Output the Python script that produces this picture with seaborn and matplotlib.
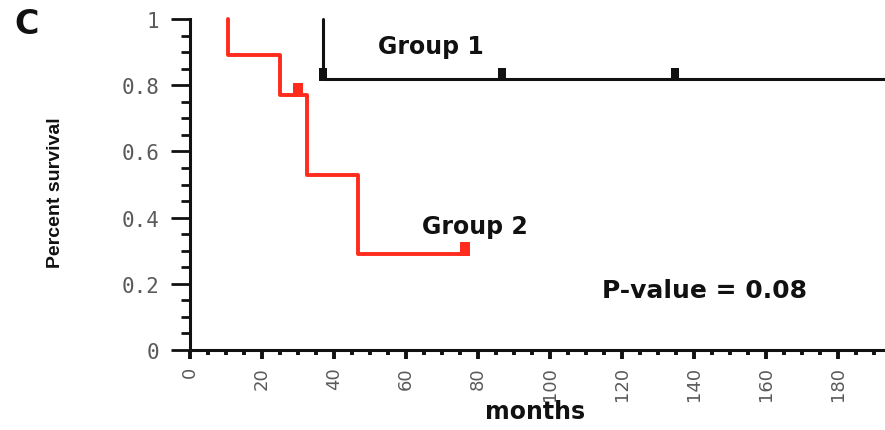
import numpy as np
import pandas as pd
import matplotlib
matplotlib.use("Agg")
import matplotlib.pyplot as plt
from matplotlib.path import Path
from matplotlib.ticker import MultipleLocator, FixedLocator
import seaborn as sns

# ---- data ----
g1_months = [37.0, 37.0, 195.0]
g1_surv = [1.0, 0.82, 0.82]
g1_cens_months = [37.0, 86.7, 134.7]
g1_cens_surv = [0.82, 0.82, 0.82]

g2_months = [10.5, 10.5, 25.0, 32.5, 46.7, 76.4]
g2_surv = [1.0, 0.89, 0.77, 0.53, 0.29, 0.29]
g2_cens_months = [30.0, 76.4]
g2_cens_surv = [0.77, 0.29]

x_ticks = [0, 20, 40, 60, 80, 100, 120, 140, 160, 180]
y_ticks = [0, 0.2, 0.4, 0.6, 0.8, 1.0]
y_tick_labels = ["0", "0.2", "0.4", "0.6", "0.8", "1"]

RED = "#ff2b1c"
BLACK = "#111111"
GRAY = "#5a5a5a"

sns.set_style("ticks")
plt.rcParams["font.family"] = ["DejaVu Sans"]

fig = plt.figure(figsize=(8.85, 4.31), dpi=100)
ax = fig.add_axes([190 / 885, 80 / 431, 695 / 885, 331 / 431])

d1 = pd.DataFrame({"months": g1_months, "surv": g1_surv})
d2 = pd.DataFrame({"months": g2_months, "surv": g2_surv})
sns.lineplot(data=d1, x="months", y="surv", ax=ax, drawstyle="steps-post",
             estimator=None, sort=False, color=BLACK, linewidth=2.2)
sns.lineplot(data=d2, x="months", y="surv", ax=ax, drawstyle="steps-post",
             estimator=None, sort=False, color=RED, linewidth=2.8)
for ln in ax.lines:
    ln.set_clip_on(False)

# censor tick: small upright rectangle sitting on the curve
cens = Path([(-0.4, -0.15), (0.4, -0.15), (0.4, 1.0), (-0.4, 1.0), (-0.4, -0.15)],
            [Path.MOVETO, Path.LINETO, Path.LINETO, Path.LINETO, Path.CLOSEPOLY])
sns.scatterplot(x=g1_cens_months, y=g1_cens_surv, ax=ax, marker=cens, s=240,
                color=BLACK, linewidth=0, clip_on=False, zorder=5)
sns.scatterplot(x=g2_cens_months, y=g2_cens_surv, ax=ax, marker=cens, s=280,
                color=RED, linewidth=0, clip_on=False, zorder=5)

ax.set_xlim(0, 193)
ax.set_ylim(0, 1)

sns.despine(ax=ax)
for side in ("left", "bottom"):
    ax.spines[side].set_linewidth(2.2)
    ax.spines[side].set_color(BLACK)

ax.xaxis.set_major_locator(FixedLocator(x_ticks))
ax.xaxis.set_minor_locator(MultipleLocator(5))
ax.yaxis.set_major_locator(FixedLocator(y_ticks))
ax.yaxis.set_minor_locator(MultipleLocator(0.05))
ax.set_yticklabels(y_tick_labels)
ax.set_xticklabels([str(v) for v in x_ticks], rotation=90)

ax.tick_params(axis="y", which="major", length=14, width=2.0, color=BLACK,
               pad=8, labelsize=15, labelcolor=GRAY, direction="out")
ax.tick_params(axis="y", which="minor", length=6.5, width=2.0, color=BLACK, direction="out")
ax.tick_params(axis="x", which="major", length=6.5, width=2.8, color=BLACK,
               pad=5, labelsize=13, labelcolor=GRAY, direction="out")
ax.tick_params(axis="x", which="minor", length=3.5, width=2.8, color=BLACK, direction="out")
for lab in ax.get_yticklabels():
    lab.set_family(["DejaVu Sans Mono", "DejaVu Sans"])

ax.set_xlabel("months", fontsize=17, fontweight="bold", color=BLACK, va="center")
ax.xaxis.set_label_coords(0.497, -0.184)
ax.set_ylabel("Percent survival", fontsize=14, fontweight="bold",
              family=["Liberation Sans", "DejaVu Sans"],
              color=BLACK, va="center")
ax.yaxis.set_label_coords(-0.194, 0.478)

ax.text(67, 0.918, "Group 1", fontsize=17, fontweight="bold", ha="center", va="center", color=BLACK)
ax.text(79, 0.376, "Group 2", fontsize=17, fontweight="bold", ha="center", va="center", color=BLACK)
ax.text(143, 0.18, "P-value = 0.08", fontsize=18, fontweight="bold", ha="center", va="center", color=BLACK)
fig.text(27 / 885, 1 - 25 / 431, "C", fontsize=24, fontweight="bold", ha="center", va="center", color=BLACK)

fig.savefig("out.png", dpi=100)
